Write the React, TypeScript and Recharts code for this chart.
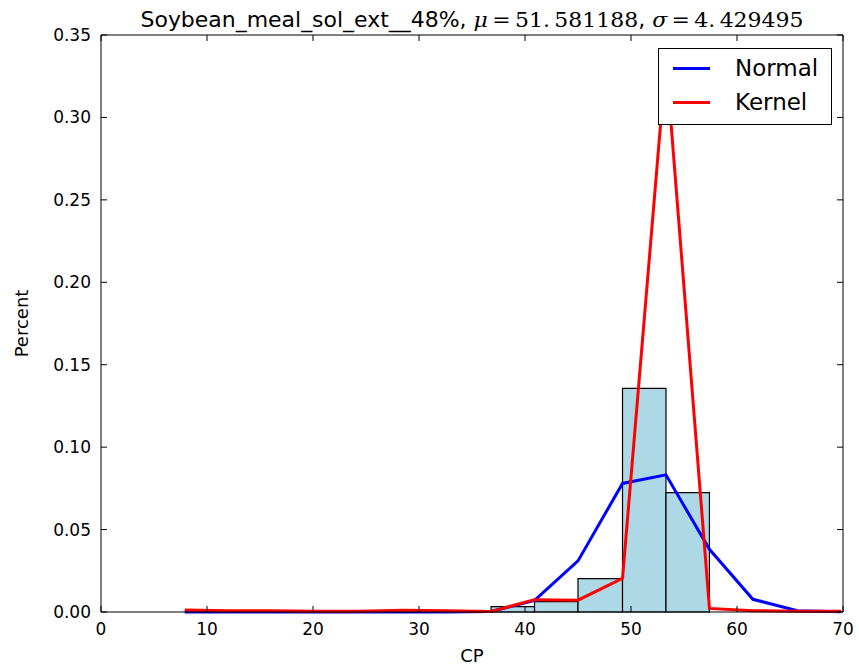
import React from 'react';
import { ComposedChart, XAxis, YAxis, Line, ReferenceArea, Label } from 'recharts';

// histogram bins (CP) and their heights
const binEdges = [36.8, 40.9, 45.0, 49.2, 53.3, 57.4];
const binHeights = [0.0032, 0.0063, 0.0202, 0.1357, 0.0724];

// curve evaluation points
const cpPoints = [7.9, 12.0, 16.1, 20.3, 24.4, 28.5, 32.6, 36.8, 40.9, 45.0, 49.2, 53.3, 57.4, 61.5, 65.7, 69.8];
const normalVals = [0, 0, 0, 0, 0, 0, 0, 0.0003, 0.007, 0.031, 0.078, 0.0832, 0.038, 0.0077, 0.0008, 0.0001];
const kernelVals = [0.0012, 0.0008, 0.0007, 0.0005, 0.0005, 0.001, 0.0007, 0.0003, 0.0075, 0.0072, 0.0204, 0.335, 0.0022, 0.0008, 0.0004, 0.0004];

const xTicks = [0, 10, 20, 30, 40, 50, 60, 70];
const yTicks = [0, 0.05, 0.1, 0.15, 0.2, 0.25, 0.3, 0.35];

const legendItems = [
    { name: 'Normal', color: '#0000FF' },
    { name: 'Kernel', color: '#FF0000' },
];

const data = cpPoints.map((cp, i) => ({ cp, normal: normalVals[i], kernel: kernelVals[i] }));

const font = 'DejaVu Sans';
const tickStyle = { fontFamily: font, fontSize: 17, fill: '#000' };

const LegendBox = () => (
    <div style={{ position: 'absolute', left: 658, top: 48, width: 172, height: 75, border: '1px solid #000',
        background: '#fff', fontFamily: font, fontSize: 23 }}>
        {legendItems.map((it, i) => (
            <div key={i} style={{ position: 'absolute', left: 14, top: 4 + i * 34, height: 30, display: 'flex', alignItems: 'center' }}>
                <div style={{ width: 37, height: 3, background: it.color }} />
                <span style={{ marginLeft: 25 }}>{it.name}</span>
            </div>
        ))}
    </div>
);

const App = () => {
    return (
        <div style={{ position: 'absolute', left: 0, top: 0, width: 859, height: 667 }}>
            <ComposedChart width={859} height={667} data={data} margin={{ top: 34, right: 15, bottom: 0, left: 0 }}>
                <text x={472} y={27} textAnchor="middle" textLength={663} lengthAdjust="spacingAndGlyphs" fontSize={21} fill="#000">
                    <tspan fontFamily={font}>Soybean_meal_sol_ext__48%, </tspan>
                    <tspan fontFamily="DejaVu Serif" fontStyle="italic">μ</tspan>
                    <tspan fontFamily="DejaVu Serif">{'\u2009=\u200951.\u2009581188'}</tspan>
                    <tspan fontFamily={font}>, </tspan>
                    <tspan fontFamily="DejaVu Serif" fontStyle="italic">σ</tspan>
                    <tspan fontFamily="DejaVu Serif">{'\u2009=\u20094.\u2009429495'}</tspan>
                </text>
                <XAxis xAxisId="b" dataKey="cp" type="number" domain={[0, 70]} ticks={xTicks} allowDataOverflow
                    height={55} stroke="#000" tickSize={-6} tickMargin={17} tick={tickStyle}>
                    <Label value="CP" position="insideBottom" offset={5} style={{ fontFamily: font, fontSize: 18, fill: '#000' }} />
                </XAxis>
                <XAxis xAxisId="t" orientation="top" dataKey="cp" type="number" domain={[0, 70]} ticks={xTicks} height={1}
                    stroke="#000" tickSize={-6} tickFormatter={() => ''} />
                <YAxis yAxisId="l" type="number" domain={[0, 0.35]} ticks={yTicks} width={101} stroke="#000"
                    tickSize={-6} tickMargin={16} tick={tickStyle} tickFormatter={(v: number) => v.toFixed(2)}>
                    <Label value="Percent" angle={-90} position="insideLeft" offset={22}
                        style={{ fontFamily: font, fontSize: 18, fill: '#000', textAnchor: 'middle' }} />
                </YAxis>
                <YAxis yAxisId="r" orientation="right" type="number" domain={[0, 0.35]} ticks={yTicks} width={1}
                    stroke="#000" tickSize={-6} tickFormatter={() => ''} />
                {binHeights.map((h, i) => (
                    <ReferenceArea key={i} xAxisId="b" yAxisId="l" x1={binEdges[i]} x2={binEdges[i + 1]} y1={0} y2={h}
                        fill="#ADD8E6" fillOpacity={1} stroke="#000" strokeWidth={1.2} />
                ))}
                <Line xAxisId="b" yAxisId="l" dataKey="normal" name="Normal" type="linear" stroke="#0000FF" strokeWidth={3}
                    dot={false} isAnimationActive={false} />
                <Line xAxisId="b" yAxisId="l" dataKey="kernel" name="Kernel" type="linear" stroke="#FF0000" strokeWidth={3}
                    dot={false} isAnimationActive={false} />
                {/* invisible series so the top/right frame axes get drawn */}
                <Line xAxisId="t" yAxisId="r" dataKey="kernel" stroke="none" dot={false} legendType="none"
                    isAnimationActive={false} />
            </ComposedChart>
            <LegendBox />
        </div>
    );
};

export default App;
